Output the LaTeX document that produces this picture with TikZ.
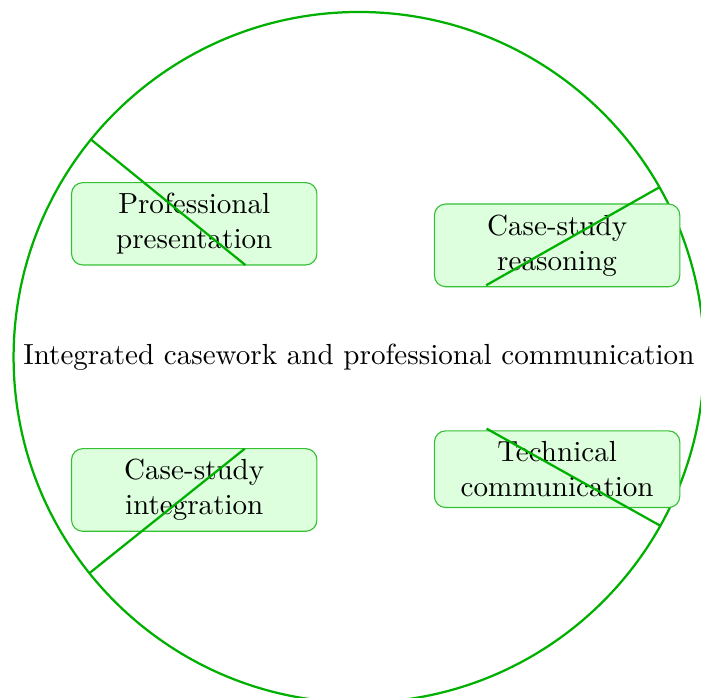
\documentclass[tikz,border=0pt]{standalone}
\usepackage{tikz}
\usetikzlibrary{positioning}
\definecolor{Casegreen}{rgb}{0,.69,0}
\definecolor{Casefill}{rgb}{.87,1,.87}

\begin{document}
\begin{tikzpicture}[
  every node/.style={align=center, font=\fontsize{10.35pt}{12.4pt}\selectfont},
  topic/.style={draw=Casegreen!80, fill=Casefill, rounded corners=4pt,
    minimum width=3.07cm, inner sep=3.8pt},
  spoke/.style={Casegreen, thick},
  ]
\useasboundingbox (-4.49,-4.26) rectangle (4.28,4.47);

\draw [Casegreen, thick] (0,0) circle (4.32);
\node (hub) at (0,0) {Integrated casework and professional communication};

\node [topic] (t1) at (-2.06,1.67) {Professional\\presentation};
\node [topic] (t2) at (2.48,1.40) {Case-study\\reasoning};
\node [topic] (t3) at (-2.06,-1.66) {Case-study\\integration};
\node [topic] (t4) at (2.48,-1.40) {Technical\\communication};

\coordinate (p1) at (140.9:4.32);
\coordinate (p2) at (29.5:4.32);
\coordinate (p3) at (-141.3:4.32);
\coordinate (p4) at (-29.2:4.32);
\coordinate (q1) at (140.9:1.83);
\coordinate (q2) at (29.5:1.83);
\coordinate (q3) at (-141.3:1.83);
\coordinate (q4) at (-29.2:1.83);

\path [spoke]
(p1) edge (q1)
(p2) edge (q2)
(p3) edge (q3)
(p4) edge (q4);
\end{tikzpicture}
\end{document}
